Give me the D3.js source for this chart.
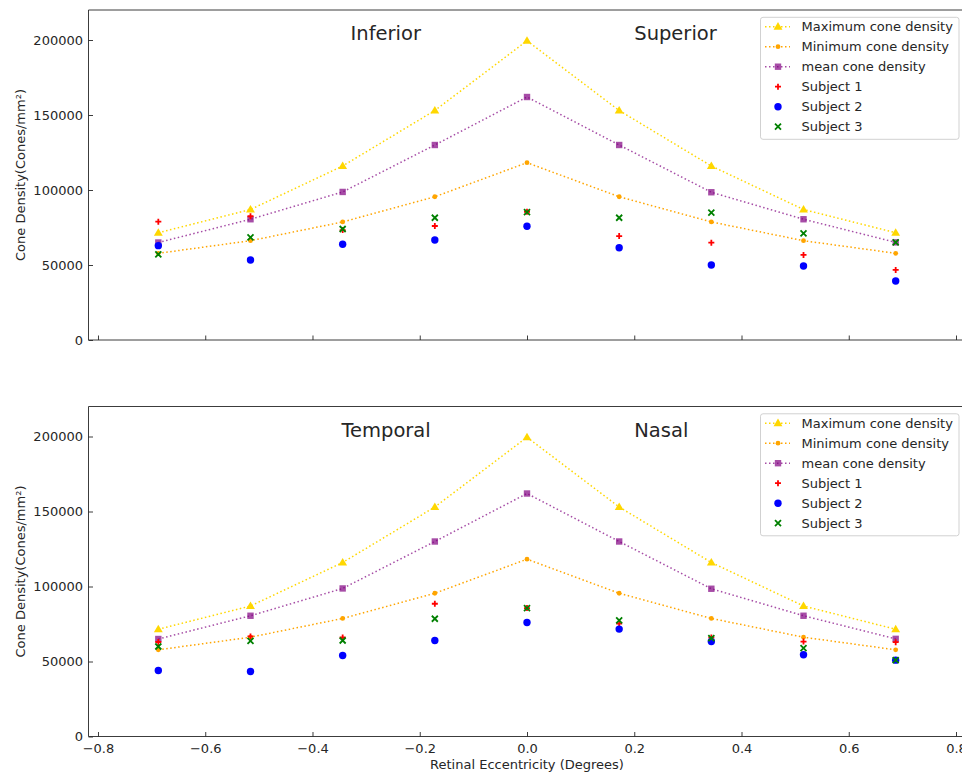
<!DOCTYPE html>
<html><head><meta charset="utf-8">
<script src="https://cdn.jsdelivr.net/npm/d3@7"></script>
<style>body{margin:0;background:#fff}svg{display:block}text{font-family:"DejaVu Sans",sans-serif;fill:#262626}</style>
</head><body>
<script>
const ecc = [-0.6875,-0.515625,-0.34375,-0.171875,0,0.171875,0.34375,0.515625,0.6875];
const maxDensity  = [71500,87000,116000,153000,199500,153000,116000,87000,71500];
const minDensity  = [57800,66200,78700,95500,118200,95500,78700,66200,57800];
const meanDensity = [65000,80500,98700,130000,162000,130000,98500,80500,65100];
// top panel (Inferior / Superior)
const topS1 = [78900,82500,73300,76000,85500,69300,64900,56700,46700];
const topS2 = [62900,53300,63800,66700,75800,61500,50000,49300,39300];
const topS3 = [57100,68400,74000,81500,85300,81500,84900,71100,65100];
// bottom panel (Temporal / Nasal)
const botS1 = [63000,66700,66000,88500,85600,75300,66000,63300,62900];
const botS2 = [44000,43300,54000,64000,76000,71600,63300,54500,50900];
const botS3 = [60000,63800,64000,78500,85600,77400,65600,58900,50900];
const xTicks = [-0.8,-0.6,-0.4,-0.2,0.0,0.2,0.4,0.6,0.8];
const yTicks = [0,50000,100000,150000,200000];
const legendLabels = ["Maximum cone density","Minimum cone density","mean cone density","Subject 1","Subject 2","Subject 3"];
const panelTitles = [["Inferior","Superior"],["Temporal","Nasal"]];

const W=962,H=772;
const svg=d3.select("body").append("svg").attr("width",W).attr("height",H);
const x=d3.scaleLinear().domain([-0.8177,0.8177]).range([88.5,965.5]);

const panels=[{top:10,bottom:340,s:[topS1,topS2,topS3],titles:panelTitles[0],labels:false},
              {top:406.5,bottom:736.5,s:[botS1,botS2,botS3],titles:panelTitles[1],labels:true}];

const lineSeries=[
 {vals:maxDensity,color:"#FFD700",marker:"tri",alpha:1},
 {vals:minDensity,color:"#FFA500",marker:"dot",alpha:1},
 {vals:meanDensity,color:"#800080",marker:"sq",alpha:0.7}];
const subjStyle=[{color:"red",marker:"plus"},{color:"blue",marker:"circ"},{color:"green",marker:"x"}];

function drawMarker(g,type,cx,cy,color,alpha){
  alpha=alpha==null?1:alpha;
  if(type==="tri"){g.append("path").attr("d",d3.symbol(d3.symbolTriangle,34)()).attr("transform",`translate(${cx},${cy+0.5})`).attr("fill",color).attr("opacity",alpha);}
  else if(type==="dot"){g.append("circle").attr("cx",cx).attr("cy",cy).attr("r",2.4).attr("fill",color).attr("opacity",alpha);}
  else if(type==="sq"){g.append("rect").attr("x",cx-3.2).attr("y",cy-3.2).attr("width",6.4).attr("height",6.4).attr("fill",color).attr("opacity",alpha);}
  else if(type==="circ"){g.append("circle").attr("cx",cx).attr("cy",cy).attr("r",3.7).attr("fill",color).attr("opacity",alpha);}
  else if(type==="plus"){g.append("path").attr("d",`M${cx-3},${cy}H${cx+3}M${cx},${cy-3}V${cy+3}`).attr("stroke",color).attr("stroke-width",1.8).attr("fill","none");}
  else if(type==="x"){g.append("path").attr("d",`M${cx-3},${cy-3}L${cx+3},${cy+3}M${cx-3},${cy+3}L${cx+3},${cy-3}`).attr("stroke",color).attr("stroke-width",1.8).attr("fill","none");}
}

panels.forEach(p=>{
  const y=d3.scaleLinear().domain([0,220000]).range([p.bottom,p.top]);
  const g=svg.append("g");
  lineSeries.forEach(ls=>{
    const line=d3.line().x((d,i)=>x(ecc[i])).y(d=>y(d));
    g.append("path").datum(ls.vals).attr("d",line).attr("fill","none").attr("stroke",ls.color)
      .attr("stroke-width",1.5).attr("stroke-dasharray","1.5,2.5").attr("opacity",ls.alpha);
    ls.vals.forEach((v,i)=>drawMarker(g,ls.marker,x(ecc[i]),y(v),ls.color,ls.alpha));
  });
  p.s.forEach((vals,k)=>{
    vals.forEach((v,i)=>drawMarker(g,subjStyle[k].marker,x(ecc[i]),y(v),subjStyle[k].color,1));
  });
  g.append("path").attr("d",`M88.5,${p.bottom}V${p.top}H970`).attr("fill","none").attr("stroke","#262626").attr("stroke-width",0.9);
  g.append("path").attr("d",`M88.5,${p.bottom}H970`).attr("fill","none").attr("stroke","#262626").attr("stroke-width",0.9);
  const xa=d3.axisBottom(x).tickValues(xTicks).tickSizeInner(-4.5).tickSizeOuter(0).tickPadding(7)
     .tickFormat(d=>p.labels? d3.format(".1f")(d).replace("-","\u2212"):"");
  const gx=svg.append("g").attr("transform",`translate(0,${p.bottom})`).call(xa);
  gx.select(".domain").remove();
  gx.selectAll("line").attr("stroke","#262626").attr("stroke-width",0.9);
  gx.selectAll("text").attr("font-size",13).attr("fill","#262626").attr("font-family","DejaVu Sans");
  const ya=d3.axisLeft(y).tickValues(yTicks).tickSizeInner(-4.5).tickSizeOuter(0).tickPadding(5.5).tickFormat(d3.format("d"));
  const gy=svg.append("g").attr("transform",`translate(88.5,0)`).call(ya);
  gy.select(".domain").remove();
  gy.selectAll("line").attr("stroke","#262626").attr("stroke-width",0.9);
  gy.selectAll("text").attr("font-size",13).attr("fill","#262626").attr("font-family","DejaVu Sans");
  svg.append("text").attr("transform",`translate(24.5,${(p.top+p.bottom)/2}) rotate(-90)`).attr("text-anchor","middle")
     .attr("font-size",13).text("Cone Density(Cones/mm\u00B2)");
  svg.append("text").attr("x",x(p.labels?-0.346:-0.329)).attr("y",y(200000)).attr("font-size",19.5).attr("fill","#000").text(p.titles[0]);
  svg.append("text").attr("x",x(0.2)).attr("y",y(200000)).attr("font-size",19.5).attr("fill","#000").text(p.titles[1]);
  const lt=p.top+7.3;
  const lg=svg.append("g");
  lg.append("rect").attr("x",760.5).attr("y",lt).attr("width",198.5).attr("height",122).attr("rx",2.5)
    .attr("fill","#fff").attr("fill-opacity",0.8).attr("stroke","#cccccc").attr("stroke-width",0.9);
  const items=[...lineSeries.map(d=>({...d,line:true})),...subjStyle.map(d=>({...d,line:false,alpha:1}))];
  items.forEach((it,i)=>{
    const cy=lt+9.4+i*20;
    if(it.line){
      lg.append("path").attr("d",`M765,${cy}H790`).attr("stroke",it.color).attr("stroke-width",1.5)
        .attr("stroke-dasharray","1.5,2.5").attr("opacity",it.alpha).attr("fill","none");
    }
    drawMarker(lg,it.marker,778,cy,it.color,it.alpha);
    lg.append("text").attr("x",801.5).attr("y",cy+4.6).attr("font-size",13).text(legendLabels[i]);
  });
});
svg.append("text").attr("x",527).attr("y",769).attr("text-anchor","middle").attr("font-size",13).text("Retinal Eccentricity (Degrees)");
</script>
</body></html>
